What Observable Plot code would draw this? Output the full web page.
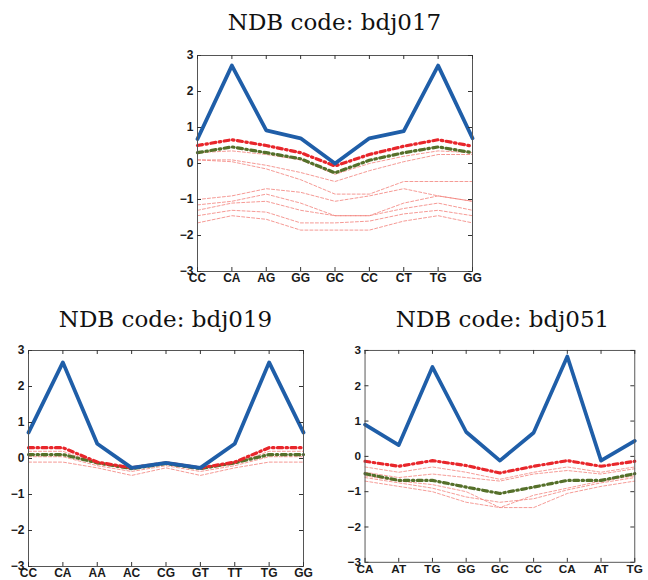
<!DOCTYPE html>
<html><head><meta charset="utf-8">
<script src="https://cdn.jsdelivr.net/npm/d3@7"></script>
<script src="https://cdn.jsdelivr.net/npm/@observablehq/plot@0.6"></script>
<style>
body{margin:0;background:#fff;width:648px;height:580px;overflow:hidden;position:relative;}
.title{position:absolute;font-family:"DejaVu Serif",serif;font-size:23px;line-height:23px;color:#111;text-align:center;white-space:nowrap;width:300px;}
.panel{position:absolute;}
</style></head><body>
<script>
const yTicks = [-3, -2, -1, 0, 1, 2, 3];

// bdj017
const labels017 = ["CC","CA","AG","GG","GC","CC","CT","TG","GG"];
const blue017  = [0.68, 2.72, 0.92, 0.7, 0.0, 0.7, 0.9, 2.72, 0.7];
const red017   = [0.5, 0.66, 0.5, 0.3, -0.07, 0.25, 0.48, 0.66, 0.48];
const green017 = [0.3, 0.46, 0.3, 0.13, -0.26, 0.09, 0.3, 0.46, 0.3];
const thin017 = [
  [0.3, 0.35, 0.25, 0.1, -0.3, 0.0, 0.2, 0.35, 0.3],
  [0.1, 0.1, -0.05, -0.25, -0.5, -0.2, 0.05, 0.25, 0.25],
  [0.1, 0.05, -0.15, -0.45, -0.85, -0.85, -0.5, -0.5, -0.5],
  [-1.0, -0.9, -0.7, -0.8, -1.05, -0.9, -0.7, -0.9, -1.05],
  [-1.15, -1.05, -0.85, -1.1, -1.45, -1.45, -1.1, -0.9, -1.05],
  [-1.3, -1.1, -1.05, -1.3, -1.45, -1.45, -1.25, -1.1, -1.3],
  [-1.45, -1.3, -1.35, -1.65, -1.65, -1.6, -1.4, -1.3, -1.45],
  [-1.65, -1.45, -1.55, -1.85, -1.85, -1.85, -1.6, -1.45, -1.65]
];

// bdj019
const labels019 = ["CC","CA","AA","AC","CG","GT","TT","TG","GG"];
const blue019  = [0.72, 2.67, 0.41, -0.26, -0.12, -0.26, 0.41, 2.67, 0.72];
const red019   = [0.3, 0.3, -0.1, -0.26, -0.12, -0.26, -0.1, 0.3, 0.3];
const green019 = [0.11, 0.11, -0.12, -0.28, -0.14, -0.28, -0.12, 0.11, 0.11];
const thin019 = [
  [-0.1, -0.1, -0.26, -0.47, -0.26, -0.47, -0.26, -0.1, -0.1],
  [0.05, 0.05, -0.2, -0.36, -0.2, -0.36, -0.2, 0.05, 0.05],
  [0.2, 0.2, -0.15, -0.3, -0.15, -0.3, -0.15, 0.2, 0.2]
];

// bdj051
const labels051 = ["CA","AT","TG","GG","GC","CC","CA","AT","TG"];
const blue051  = [0.9, 0.32, 2.53, 0.69, -0.12, 0.67, 2.83, -0.12, 0.44];
const red051   = [-0.14, -0.28, -0.12, -0.26, -0.47, -0.28, -0.12, -0.28, -0.14];
const green051 = [-0.49, -0.68, -0.68, -0.87, -1.05, -0.87, -0.68, -0.68, -0.49];
const thin051 = [
  [-0.3, -0.45, -0.3, -0.45, -0.65, -0.45, -0.3, -0.45, -0.3],
  [-0.45, -0.6, -0.5, -0.6, -0.7, -0.5, -0.4, -0.5, -0.35],
  [-0.55, -0.7, -0.8, -1.0, -1.45, -1.1, -0.9, -0.7, -0.55],
  [-0.6, -0.75, -0.9, -1.15, -1.3, -1.2, -0.95, -0.75, -0.6],
  [-0.7, -0.85, -1.0, -1.3, -1.45, -1.45, -1.05, -0.85, -0.7]
];

const W = 275, H = 216;
const mL = 24, mR = 14, mT = 2, mB = 18;

function panel(title, labels, blue, red, green, thins, left, top, titleTop) {
  const idx = labels.map((_, i) => i);
  const t = document.createElement("div");
  t.className = "title";
  t.textContent = title;
  t.style.left = (left + W / 2 - 150) + "px";
  t.style.top = titleTop + "px";
  document.body.appendChild(t);

  const dash = {strokeDasharray: "5,3.5,1.5,3.5", strokeWidth: 3.2};
  const chart = Plot.plot({
    width: W + mL + mR, height: H + mT + mB,
    marginLeft: mL, marginRight: mR, marginTop: mT, marginBottom: mB,
    x: {domain: [0, 8]},
    y: {domain: [-3, 3]},
    style: {fontFamily: "'Liberation Sans', Arial, sans-serif", fontSize: "12px", fontWeight: "bold", color: "#1a1a1a", background: "transparent", overflow: "visible"},
    marks: [
      ...thins.map(s => Plot.line(s, {x: (d, i) => i, y: d => d, stroke: "#f2807a", strokeWidth: 0.8, strokeDasharray: "3,2"})),
      Plot.line(green, {x: (d, i) => i, y: d => d, stroke: "#55702a", ...dash}),
      Plot.line(red, {x: (d, i) => i, y: d => d, stroke: "#e8262b", ...dash}),
      Plot.line(blue, {x: (d, i) => i, y: d => d, stroke: "#1f5ea8", strokeWidth: 3.8}),
      Plot.frame({stroke: "#555"}),
      Plot.tickY(yTicks, {y: d => d, insetRight: W - 4, stroke: "#333"}),
      Plot.tickY(yTicks, {y: d => d, insetLeft: W - 4, stroke: "#333"}),
      Plot.tickX(idx, {x: d => d, insetBottom: H - 4, stroke: "#333"}),
      Plot.tickX(idx, {x: d => d, insetTop: H - 4, stroke: "#333"}),
      Plot.axisY(yTicks, {tickSize: 0, tickPadding: 4}),
      Plot.axisX(idx, {tickSize: 0, tickPadding: 2, tickFormat: i => labels[i]})
    ]
  });
  const wrap = document.createElement("div");
  wrap.className = "panel";
  wrap.style.left = (left - mL) + "px";
  wrap.style.top = (top - mT) + "px";
  wrap.appendChild(chart);
  document.body.appendChild(wrap);
}

panel("NDB code: bdj017", labels017, blue017, red017, green017, thin017, 197, 55, 11);
panel("NDB code: bdj019", labels019, blue019, red019, green019, thin019, 28, 350, 308);
panel("NDB code: bdj051", labels051, blue051, red051, green051, thin051, 365, 350, 308);
</script>
</body></html>
